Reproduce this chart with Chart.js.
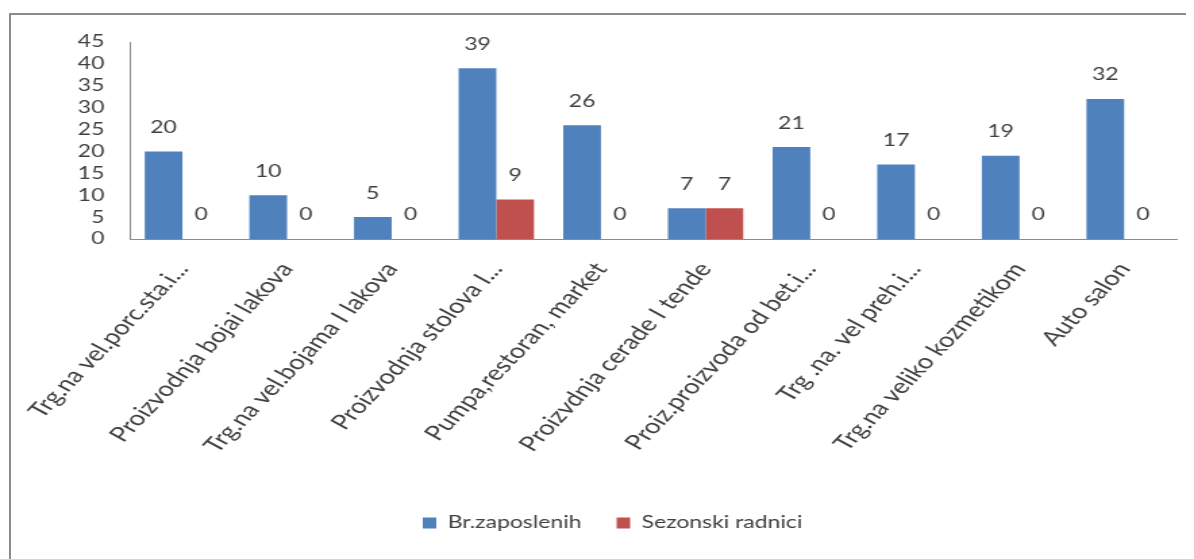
<!DOCTYPE html>
<html>
<head>
<meta charset="utf-8">
<script src="https://cdn.jsdelivr.net/npm/chart.js@4/dist/chart.umd.min.js"></script>
<style>
  html, body { margin: 0; padding: 0; background: #ffffff; overflow: hidden; }
  #frame { position: absolute; left: 9px; top: 13px; width: 1177px; height: 620px;
           border-left: 2px solid #8c8c8c; border-top: 2px solid #8c8c8c; box-sizing: border-box; }
  #wrap { position: absolute; left: 0; top: 0; width: 884px; height: 559px;
          transform: scaleX(1.3507); transform-origin: 0 0; }
</style>
</head>
<body>
<div id="frame"></div>
<div id="wrap"><canvas id="c" width="884" height="559"></canvas></div>
<script>
const categories = [
  "Trg.na vel.porc.sta.i...",
  "Proizvodnja bojai lakova",
  "Trg.na vel.bojama I lakova",
  "Proizvodnja stolova I...",
  "Pumpa,restoran, market",
  "Proizvdnja cerade I tende",
  "Proiz.proizvoda od bet.i...",
  "Trg .na. vel preh.i...",
  "Trg.na veliko kozmetikom",
  "Auto salon"
];
const zaposleni = [20, 10, 5, 39, 26, 7, 21, 17, 19, 32];
const sezonski = [0, 0, 0, 9, 0, 7, 0, 0, 0, 0];
const yTicks = [0, 5, 10, 15, 20, 25, 30, 35, 40, 45];

const FONT = "Lato";
const TXT = "#404040";

const valueLabels = {
  id: "valueLabels",
  afterDatasetsDraw(chart) {
    const ctx = chart.ctx;
    ctx.save();
    ctx.font = "17px " + FONT;
    ctx.fillStyle = TXT;
    ctx.textAlign = "center";
    ctx.textBaseline = "middle";
    chart.data.datasets.forEach((ds, i) => {
      const meta = chart.getDatasetMeta(i);
      meta.data.forEach((el, j) => {
        ctx.fillText(String(ds.data[j]), el.x, el.y - 24);
      });
    });
    ctx.restore();
  }
};

const legendShift = {
  id: "legendShift",
  afterLayout(chart) {
    if (chart.legend) chart.legend.left += 36;
  }
};

new Chart(document.getElementById("c"), {
  type: "bar",
  data: {
    labels: categories,
    datasets: [
      { label: "Br.zaposlenih", data: zaposleni, backgroundColor: "#4F81BD" },
      { label: "Sezonski radnici", data: sezonski, backgroundColor: "#C0504D" }
    ]
  },
  options: {
    responsive: false,
    animation: false,
    devicePixelRatio: 1,
    layout: { padding: { top: 42, right: 13, left: 0, bottom: 17.5 } },
    datasets: { bar: { categoryPercentage: 0.72, barPercentage: 1.0 } },
    scales: {
      x: {
        grid: { display: false, drawTicks: false },
        border: { display: true, color: "#8c8c8c", width: 1 },
        ticks: {
          autoSkip: false, minRotation: 54, maxRotation: 54,
          color: TXT, font: { family: FONT, size: 20.5 }, padding: 19
        },
        afterFit(s) { s.height = 249.5; }
      },
      y: {
        min: 0, max: 45,
        afterBuildTicks(s) { s.ticks = yTicks.map(v => ({ value: v })); },
        grid: { display: false, drawTicks: false },
        border: { display: true, color: "#8c8c8c", width: 1 },
        ticks: { color: TXT, font: { family: FONT, size: 17, lineHeight: 1 }, padding: 19 },
        afterFit(s) { s.width = 96.3; }
      }
    },
    plugins: {
      legend: {
        position: "bottom",
        labels: {
          boxWidth: 10, boxHeight: 11, padding: 26,
          color: TXT, font: { family: FONT, size: 17 }
        }
      },
      tooltip: { enabled: false }
    }
  },
  plugins: [valueLabels, legendShift]
});
</script>
</body>
</html>
